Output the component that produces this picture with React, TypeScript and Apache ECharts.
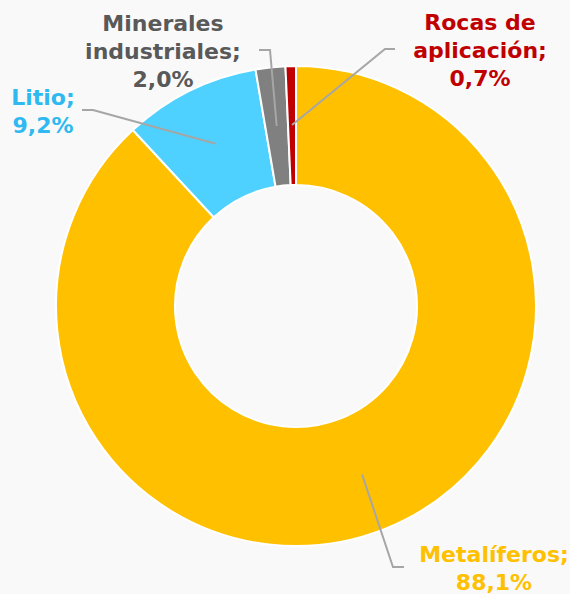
import React, { useEffect, useRef } from 'react';
import * as echarts from 'echarts';

// ---- data ----
const categories = ['Metalíferos', 'Litio', 'Minerales\nindustriales', 'Rocas de\naplicación'];
const shares = [88.1, 9.2, 2.0, 0.7];
const sliceColors = ['#FFC000', '#4FD1FF', '#808080', '#C00000'];
const labelColors = ['#FFC000', '#2FB9F0', '#595959', '#C00000'];

// ---- layout (positions / styling only) ----
const CENTER: [number, number] = [296, 306];
const RADII: [number, number] = [121, 240];
const LEADER_R = 181;
const labelPlacement = [
  { x: 494, y: 568, kneeX: 393, endX: 404 },
  { x: 43, y: 111, kneeX: 93, endX: 82 },
  { x: 163, y: 51, kneeX: 270, endX: 259 },
  { x: 480, y: 50, kneeX: 385, endX: 395 },
];

export default function App() {
  const ref = useRef<HTMLDivElement>(null);

  useEffect(() => {
    if (!ref.current) return;
    document.body.style.margin = '0';
    const chart = echarts.init(ref.current, undefined, { renderer: 'svg' });
    const total = shares.reduce((a, b) => a + b, 0);
    const cum: number[] = [];
    let acc = 0;
    shares.forEach((v) => {
      cum.push(acc);
      acc += v;
    });

    const sliceData = categories.map((name, i) => ({
      name,
      value: shares[i],
      itemStyle: { color: sliceColors[i] },
    }));

    const labelData = categories.map((name, i) => ({
      name,
      value: shares[i],
      label: { color: labelColors[i] },
    }));

    chart.setOption({
      animation: false,
      backgroundColor: '#f9f9f9',
      series: [
        {
          type: 'pie',
          z: 2,
          center: CENTER,
          radius: RADII,
          startAngle: 90,
          clockwise: true,
          silent: true,
          itemStyle: { borderColor: '#ffffff', borderWidth: 2 },
          label: { show: false },
          labelLine: { show: false },
          data: sliceData,
        },
        {
          type: 'pie',
          z: 5,
          center: CENTER,
          radius: RADII,
          startAngle: 90,
          clockwise: true,
          silent: true,
          avoidLabelOverlap: false,
          itemStyle: { color: 'rgba(0,0,0,0)', borderWidth: 0 },
          label: {
            show: true,
            position: 'outside',
            fontFamily: 'DejaVu Sans',
            fontWeight: 'bold',
            fontSize: 22,
            lineHeight: 28,
            align: 'center',
            formatter: (p: any) =>
              `${p.name};\n${Number(p.value).toFixed(1).replace('.', ',')}%`,
          },
          labelLine: {
            show: true,
            smooth: false,
            lineStyle: { color: '#A6A6A6', width: 2, opacity: 1 },
          },
          labelLayout: (params: any) => {
            const i = params.dataIndex;
            const pl = labelPlacement[i];
            const frac = (cum[i] + shares[i] / 2) / total;
            const a = frac * Math.PI * 2;
            const sx = CENTER[0] + LEADER_R * Math.sin(a);
            const sy = CENTER[1] - LEADER_R * Math.cos(a);
            return {
              x: pl.x,
              y: pl.y,
              align: 'center',
              verticalAlign: 'middle',
              labelLinePoints: [
                [sx, sy],
                [pl.kneeX, pl.y - 1],
                [pl.endX, pl.y - 1],
              ],
            };
          },
          data: labelData,
        },
      ],
    });
    return () => chart.dispose();
  }, []);

  return (
    <div
      ref={ref}
      style={{ position: 'absolute', left: 0, top: 0, width: 570, height: 594 }}
    />
  );
}
